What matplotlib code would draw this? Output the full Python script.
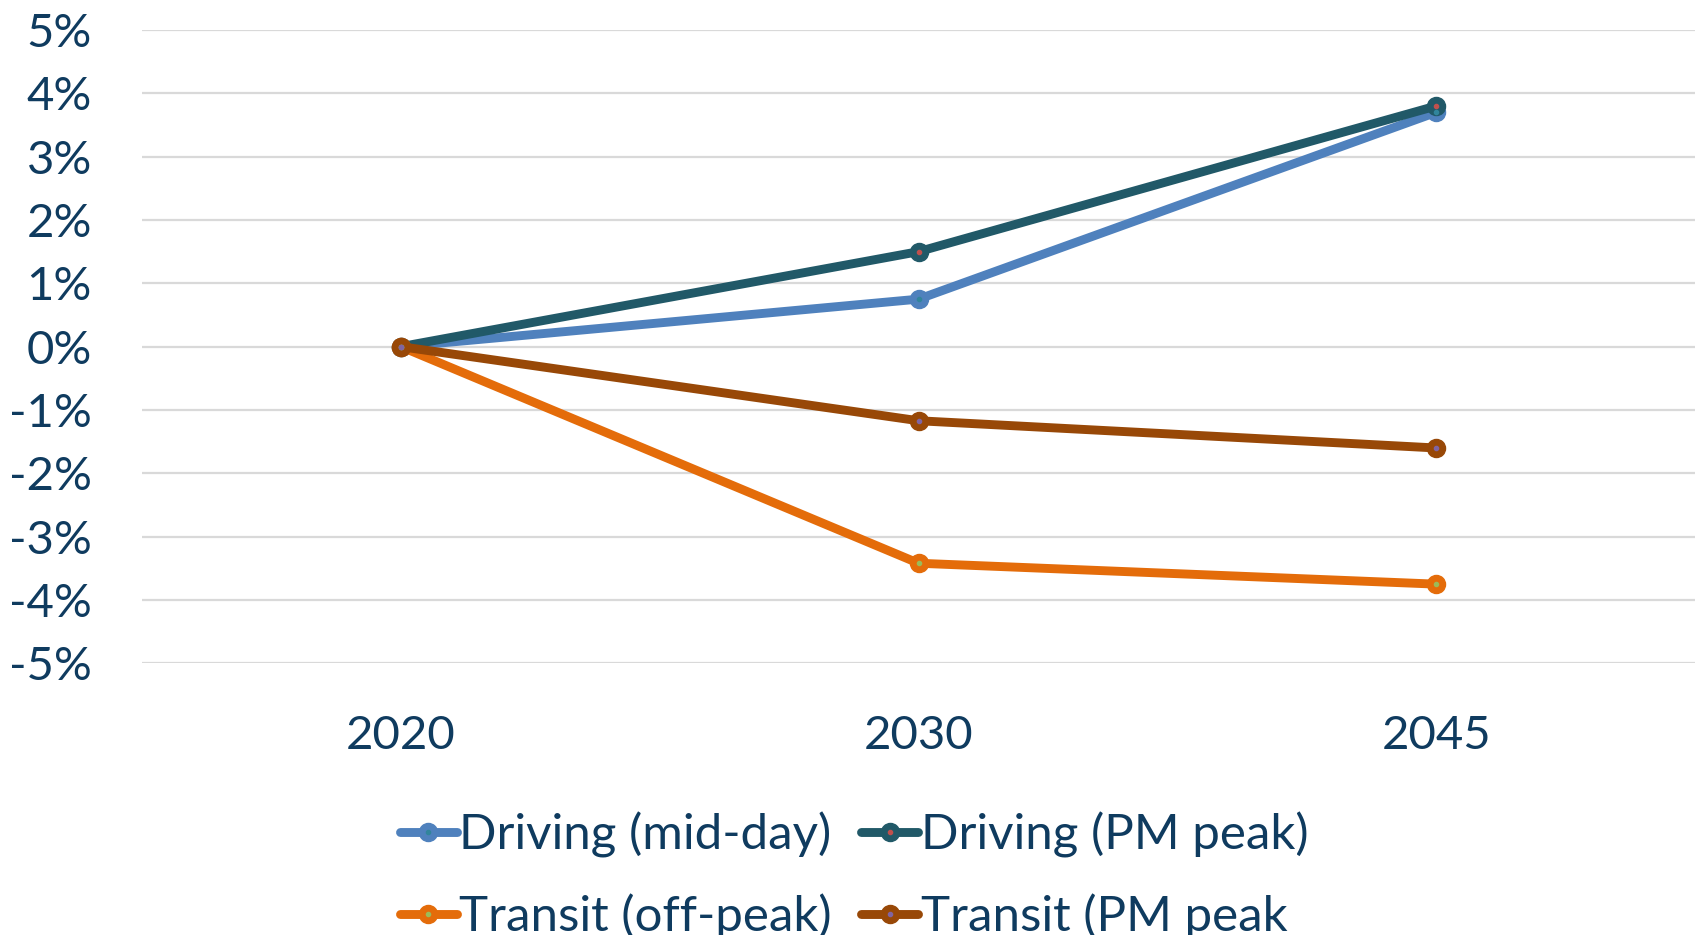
import matplotlib
matplotlib.use("Agg")
import matplotlib.pyplot as plt
from matplotlib.legend_handler import HandlerTuple
from matplotlib.ticker import FuncFormatter

# Percent change relative to 2020, by scenario year
years = ["2020", "2030", "2045"]
driving_midday = [0.0, 0.75, 3.70]
driving_pm_peak = [0.0, 1.50, 3.80]
transit_offpeak = [0.0, -3.42, -3.75]
transit_pm_peak = [0.0, -1.17, -1.60]

series_labels = ["Driving (mid-day)", "Driving (PM peak)",
                 "Transit (off-peak)", "Transit (PM peak"]
y_ticks = [-5, -4, -3, -2, -1, 0, 1, 2, 3, 4, 5]

line_colors = ["#4F81BD", "#215968", "#E46C0A", "#984807"]
dot_colors = ["#31859C", "#C0504D", "#9BBB59", "#8064A2"]
text_color = "#0F3B5F"
grid_color = "#D9D9D9"

plt.rcParams["font.family"] = ["Lato", "DejaVu Sans"]

fig = plt.figure(figsize=(16.98, 9.35), dpi=100)
ax = fig.add_axes([142 / 1698, 1 - 663.3 / 935, (1695 - 142) / 1698, (663.3 - 30) / 935])

x = list(range(len(years)))
handles = []
for values, lc, dc in zip([driving_midday, driving_pm_peak, transit_offpeak, transit_pm_peak],
                          line_colors, dot_colors):
    ln, = ax.plot(x, values, color=lc, lw=6.4, marker="o", markersize=13,
                  markerfacecolor=lc, markeredgecolor=lc, solid_capstyle="round", zorder=3)
    dot, = ax.plot(x, values, linestyle="none", marker="o", markersize=3,
                   markerfacecolor=dc, markeredgecolor=dc, zorder=4)
    handles.append((ln, dot))

ax.set_xlim(-0.5, len(years) - 0.5)
ax.set_ylim(-5, 5)
ax.set_xticks(x)
ax.set_xticklabels(years)
ax.set_yticks(y_ticks)
ax.yaxis.set_major_formatter(FuncFormatter(lambda v, p: f"{v:.0f}%"))

ax.grid(axis="y", color=grid_color, lw=1.6, zorder=0)
ax.grid(axis="x", visible=False)
ax.set_axisbelow(True)
for s in ax.spines.values():
    s.set_visible(False)

ax.tick_params(axis="y", length=0, pad=36, labelsize=34, labelcolor=text_color)
ax.tick_params(axis="x", length=0, pad=37, labelsize=34, labelcolor=text_color)

# legend fills column by column, so order entries to read row by row
order = [0, 2, 1, 3]
leg = fig.legend([handles[i] for i in order], [series_labels[i] for i in order],
                 ncol=2, loc="upper left",
                 bbox_to_anchor=(400 / 1698, 1 - 812 / 935),
                 frameon=False, fontsize=35.5, labelcolor=text_color,
                 handlelength=1.15, handletextpad=0.05, columnspacing=0.6,
                 labelspacing=0.72, borderpad=0, borderaxespad=0,
                 handler_map={tuple: HandlerTuple(ndivide=1, pad=0)})

# page number partly visible at the right edge
fig.text(1694 / 1698, 1 - 866 / 935, "1", fontsize=33, color=text_color,
         ha="left", va="center")

fig.savefig("out.png", dpi=100)
